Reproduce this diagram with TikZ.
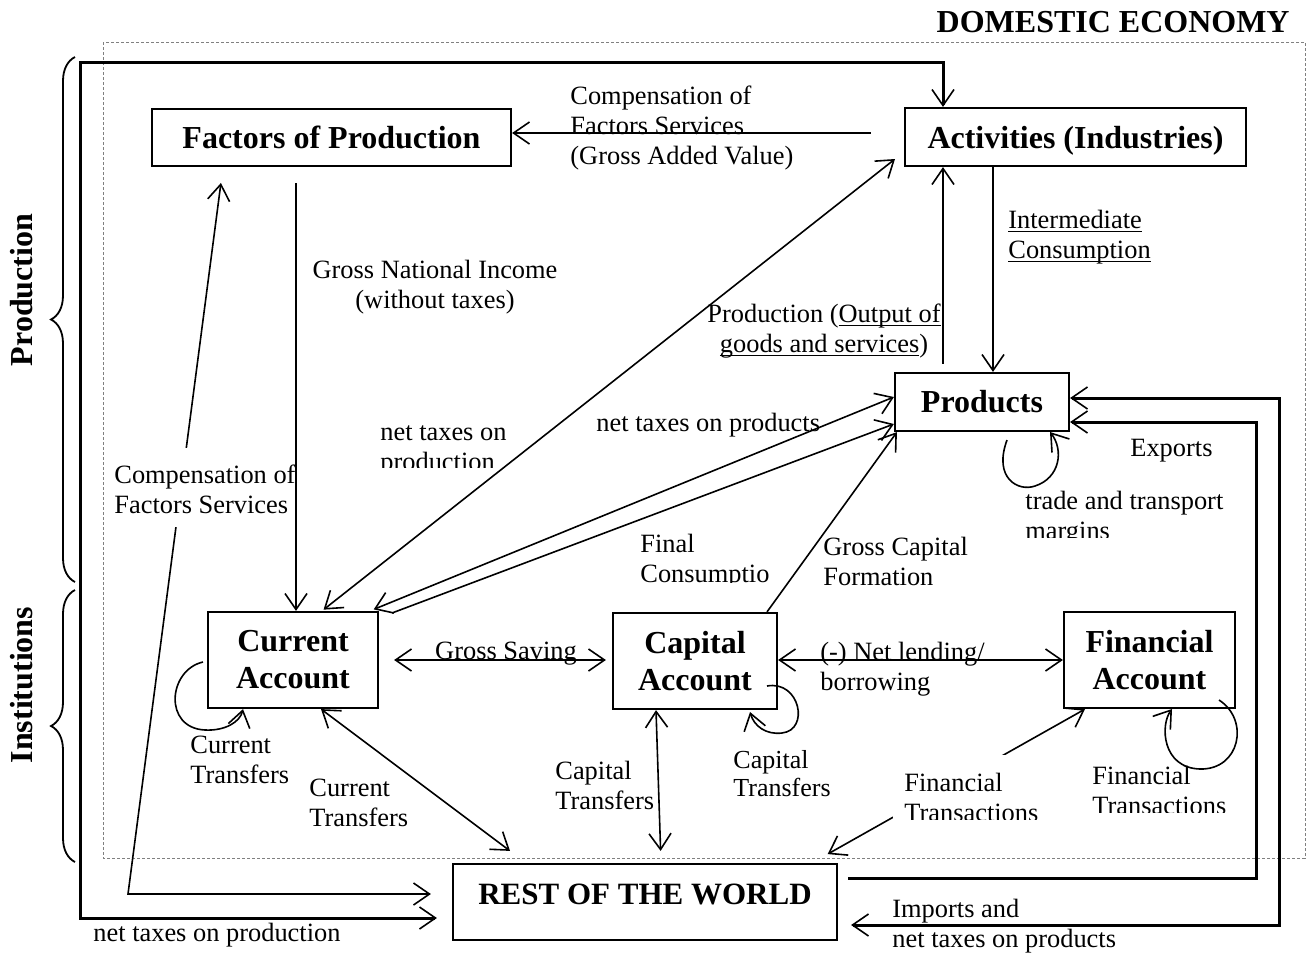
\documentclass[tikz,border=0pt]{standalone}
\usepackage{fontspec}
\setmainfont{Liberation Serif}
\usetikzlibrary{arrows.meta,calc,decorations.pathreplacing}
\newcommand{\myul}[1]{\setbox0=\hbox{#1}\rlap{\rule[-2.2pt]{\wd0}{0.9pt}}\box0}
\begin{document}
\begin{tikzpicture}[x=0.5pt,y=-0.5pt,
  >={Straight Barb[length=8pt,width=11pt,line width=0.8pt]},
  lbl/.style={font=\fontsize{13.2}{15}\selectfont, inner sep=0pt, align=left},
  box/.style={draw, line width=1.1pt, inner sep=0pt, font=\fontsize{16}{18.5}\selectfont\bfseries, align=center},
  conn/.style={line width=0.8pt},
  heavy/.style={line width=1.5pt},
  brc/.style={decorate, decoration={brace, amplitude=12pt}, line width=0.9pt},
  side/.style={font=\fontsize{16}{18}\selectfont\bfseries, rotate=90, inner sep=0pt}]
\useasboundingbox (0,0) rectangle (1306,954);

% domestic economy frame
\draw[gray, dash pattern=on 1.5pt off 1pt, line width=0.5pt] (103,42) rectangle (1305,858);
\node[font=\fontsize{16}{18}\selectfont\bfseries, anchor=base east, inner sep=0pt] (title) at (1290,32) {DOMESTIC ECONOMY};

% braces and side labels
\draw[brc] (75,582) -- (75,57);
\draw[brc] (75,862) -- (75,590);
\node[side] (lprod) at (22,290) {Production};
\node[side] (linst) at (22,685) {Institutions};

% boxes
\node[box, minimum width=179.5pt, minimum height=28.5pt] (fac) at (331.5,137.5) {Factors of Production};
\node[box, minimum width=170.5pt, minimum height=29pt, text depth=0pt] (act) at (1075.5,137) {Activities (Industries)};
\node[box, minimum width=87pt, minimum height=29pt] (prod) at (982,402) {Products};
\node[box, minimum width=85pt, minimum height=48pt] (cur) at (293,660) {Current\\Account};
\node[box, minimum width=82pt, minimum height=48pt] (cap) at (695,661) {Capital\\Account};
\node[box, minimum width=85.5pt, minimum height=48pt] (fin) at (1149.5,660) {Financial\\Account};
\node[box, minimum width=192pt, minimum height=38pt, text depth=8pt, font=\fontsize{15.5}{18}\selectfont\bfseries] (row) at (645,902) {REST OF THE WORLD};

% thick outer loop: net taxes on production
\draw[heavy,<->, shorten >=7.5pt] (act.north -| 943,0) |- (80,62) |- (row.west |- 0,918);
\node[lbl, anchor=base west] (l21) at (93,941) {net taxes on production};

% compensation of factors services (factors <-> rest of world)
\coordinate (cfs) at (128,894);
\draw[conn,<->, shorten <=8pt, shorten >=10.5pt] (fac.south -| 223,0) -- (cfs) -- (row.west |- 0,894);
\fill[white] (110,448) rectangle (300,527);
\node[lbl, anchor=base west] (l7) at (114,513) {Compensation of\\Factors Services};

% gross national income
\draw[conn,->, shorten <=8pt] (fac.south -| 296,0) -- (cur.north -| 296,0);
\node[lbl, anchor=base, align=center] (l2) at (435,308) {Gross National Income\\(without taxes)};

% activities -> factors
\draw[conn,->, shorten <=16.5pt] (act.west |- 0,133) -- (fac.east |- 0,133);
\node[lbl, anchor=base west] (l1) at (570,164) {Compensation of\\Factors Services\\(Gross Added Value)};

% activities <-> products
\draw[conn,->] (act.south -| 993,0) -- (prod.north -| 993,0);
\node[lbl, anchor=base west] (l3) at (1008,258) {\myul{Intermediate}\\\myul{Consumption}};
\draw[conn,->, shorten <=4pt] (prod.north -| 943,0) -- (act.south -| 943,0);
\node[lbl, anchor=base, align=center] (l4) at (824,352) {Production (\myul{Output of}\\\myul{goods and services})};

% current <-> activities
\coordinate (a7) at (895,159);
\draw[conn,<->, shorten <=1pt] (cur.north -| 322,0) -- (a7);
\begin{scope}
\clip (370,400) rectangle (520,467);
\node[lbl, anchor=base west] (l5) at (380,470) {net taxes on\\production};
\end{scope}

% current <-> products
\draw[conn,<->, shorten <=2pt] (cur.north -| 370,0) -- (prod.west |- 0,397);
\node[lbl, anchor=base west] (l6) at (596,431) {net taxes on products};
\coordinate (c8) at (392,613);
\draw[conn,->] (c8) -- (prod.west |- 0,424);
\begin{scope}
\clip (630,520) rectangle (790,582);
\node[lbl, anchor=base west] (l8) at (640,582) {Final\\Consumptio};
\end{scope}

% capital -> products
\draw[conn,->] (cap.north -| 767,0) -- ($(prod.south west)+(3,0)$);
\begin{scope}
\clip (815,520) rectangle (990,586);
\node[lbl, anchor=base west] (l9) at (823,585) {Gross Capital\\Formation};
\end{scope}

% products self loop
\coordinate (pl1) at (1007,440);
\coordinate (pl2) at (1050,432);
\draw[conn,->] (pl1) .. controls (993,478) and (1018,492) .. (1035,486) .. controls (1060,478) and (1064,450) .. (pl2);
\begin{scope}
\clip (1015,480) rectangle (1240,537);
\node[lbl, anchor=base west] (l11) at (1025,539) {trade and transport\\margins};
\end{scope}

% exports and imports
\draw[heavy,->, shorten <=5pt] (row.east |- 0,878) -| (1256,422) -- (prod.east |- 0,422);
\node[lbl, anchor=base west] (l10) at (1130,456) {Exports};
\draw[heavy,<->, shorten >=6.5pt] (prod.east |- 0,398) -| (1279,925) -- (row.east |- 0,925);
\node[lbl, anchor=base west] (l20) at (892,947) {Imports and\\net taxes on products};

% current <-> capital <-> financial
\draw[conn,<->, shorten <=7.5pt, shorten >=3pt] (cur.east |- 0,660) -- (cap.west |- 0,660);
\node[lbl, anchor=base] (l12) at (506,659) {Gross Saving};
\draw[conn,<->] (cap.east |- 0,660) -- (fin.west |- 0,660);
\node[lbl, anchor=base west] (l13) at (820,690) {(-) Net lending/\\borrowing};

% self loops of institutions
\coordinate (cl1) at (203,662);
\draw[conn,->] (cl1) .. controls (168,670) and (163,728) .. (205,730) .. controls (225,731) and (240,722) .. (cur.south -| 243,0);
\node[lbl, anchor=base west] (l14) at (190,783) {Current\\Transfers};
\coordinate (kl1) at (767,686);
\coordinate (kl2) at (750,712);
\draw[conn,->] (kl1) .. controls (800,680) and (810,730) .. (782,733) .. controls (766,735) and (754,726) .. (kl2);
\node[lbl, anchor=base west, font=\fontsize{13}{14}\selectfont] (l17) at (733,796) {Capital\\Transfers};
\coordinate (fl1) at (1219,700);
\coordinate (fl2) at (1172,709);
\draw[conn,->] (fl1) .. controls (1250,720) and (1240,770) .. (1200,769) .. controls (1162,768) and (1160,725) .. (fl2);
\begin{scope}
\clip (1085,755) rectangle (1240,812);
\node[lbl, anchor=base west] (l19) at (1092,814) {Financial\\Transactions};
\end{scope}

% institutions <-> rest of world
\draw[conn,<->, shorten >=10pt] (cur.south -| 321,0) -- (row.north -| 526,0);
\node[lbl, anchor=base west] (l15) at (309,826) {Current\\Transfers};
\draw[conn,<->, shorten >=6pt] (cap.south -| 656,0) -- (row.north -| 661,0);
\node[lbl, anchor=base west] (l16) at (555,809) {Capital\\Transfers};
\draw[conn,<->, shorten <=9pt] (row.north -| 812,0) -- (fin.south -| 1085,0);
\begin{scope}
\clip (893,755) rectangle (1045,819);
\fill[white] (893,755) rectangle (1045,819);
\node[lbl, anchor=base west] (l18) at (904,821) {Financial\\Transactions};
\end{scope}
\end{tikzpicture}
\end{document}
